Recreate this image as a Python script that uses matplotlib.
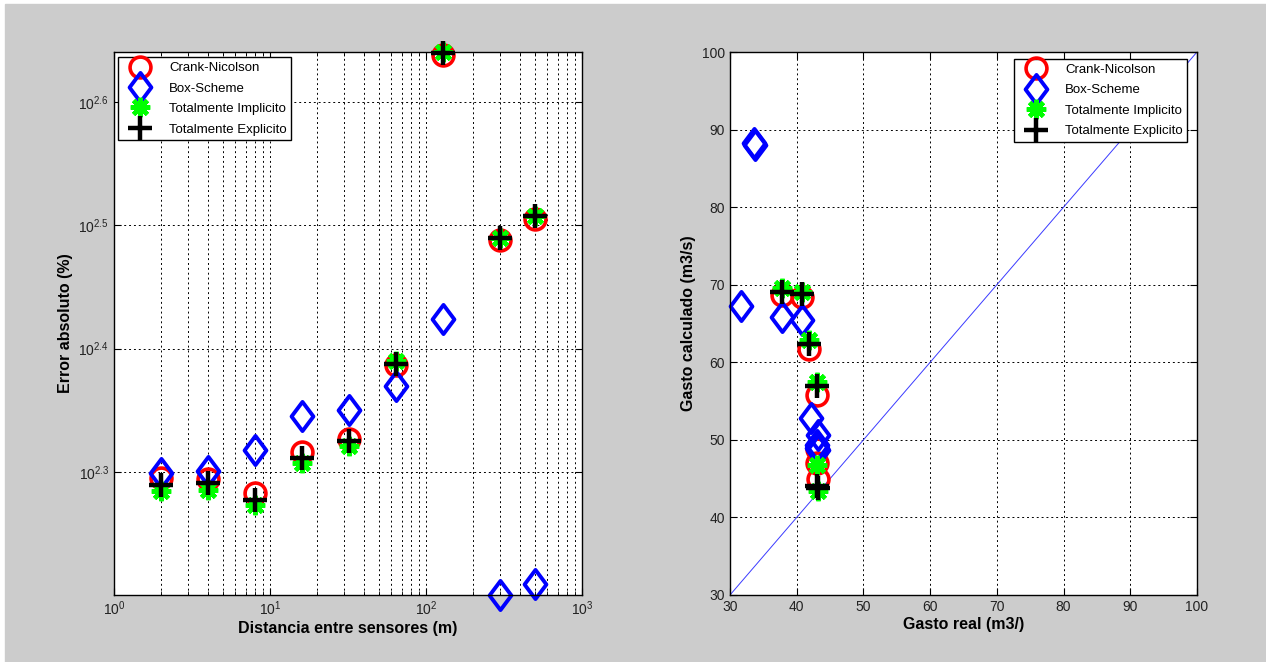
# coding: utf-8
import numpy as np
import matplotlib.pyplot as plt
from matplotlib.path import Path
from matplotlib.patches import Rectangle
from matplotlib.ticker import NullLocator, FixedLocator, FixedFormatter

plt.rcParams['font.family'] = ['Liberation Sans', 'DejaVu Sans']
plt.rcParams['mathtext.fontset'] = 'custom'
plt.rcParams['mathtext.rm'] = 'Liberation Sans'
plt.rcParams['mathtext.it'] = 'Liberation Sans:italic'

metodos = ['Crank-Nicolson', 'Box-Scheme', 'Totalmente Implicito', 'Totalmente Explicito']

# --- error absoluto vs distancia entre sensores ---
dist = [2, 4, 8, 16, 32, 64, 128, 300, 500]
err_cn = [197.3, 196.9, 191.9, 207.0, 212.2, 243.8, 434.9, 307.9, 320.2]
err_box = [199.2, 199.8, 208.0, 221.7, 224.1, 234.1, 265.7, 158.6, 162.0]
err_imp = [192.4, 193.0, 187.7, 202.9, 209.3, 245.3, 437.0, 308.9, 321.6]
err_exp = [194.9, 195.5, 189.5, 204.8, 211.3, 244.3, 436.3, 308.9, 321.6]

# --- gasto calculado vs gasto real ---
real_cn = [37.75, 40.75, 41.9, 43.0, 43.1, 43.2, 43.1]
calc_cn = [68.7, 68.4, 61.7, 55.8, 47.0, 45.0, 48.8]
real_box = [31.7, 33.55, 33.7, 37.75, 40.75, 42.2, 43.2, 43.0, 43.2, 43.1]
calc_box = [67.3, 88.3, 88.0, 65.9, 65.5, 52.8, 50.6, 49.3, 48.7, 49.0]
real_imp = [37.75, 40.75, 41.9, 43.0, 43.1, 43.2]
calc_imp = [69.6, 69.1, 62.9, 57.5, 46.8, 43.4]
real_exp = [37.75, 40.75, 41.9, 43.0, 43.1, 43.2]
calc_exp = [69.0, 68.8, 62.4, 56.9, 44.0, 43.8]
linea_ideal = [30, 100]

diamante = Path([(0, 1), (0.75, 0), (0, -1), (-0.75, 0), (0, 1)],
                [Path.MOVETO, Path.LINETO, Path.LINETO, Path.LINETO, Path.CLOSEPOLY])

estilos = [
    dict(marker='o', color='red', mfc='none', ms=15, mew=2.6),
    dict(marker=diamante, color='blue', mfc='none', ms=21, mew=2.8),
    dict(marker=(8, 2, 0), color='#00ff00', ms=14, mew=3.2),
    dict(marker='+', color='black', ms=17, mew=3.2),
]

fig = plt.figure(figsize=(12.66, 6.62), dpi=100)
fig.patch.set_facecolor('white')
fig.add_artist(Rectangle((5 / 1266, 0), 1, (662 - 4) / 662, transform=fig.transFigure,
                         color='#cccccc', zorder=-10))

grid_kw = dict(color='black', linestyle=(0, (2, 3)), linewidth=0.7)
tick_color = '#222222'


def estilo_ejes(ax):
    ax.set_facecolor('white')
    for s in ax.spines.values():
        s.set_linewidth(1.0)
        s.set_color('black')
    ax.tick_params(which='both', direction='in', top=True, right=True,
                   labelsize=10, labelcolor=tick_color)
    ax.tick_params(which='major', length=5)
    ax.tick_params(which='minor', length=3)


def leyenda(ax, handles, labels, **kw):
    leg = ax.legend(handles, labels, fontsize=9.5, numpoints=1, handlelength=2.6,
                    fancybox=False, framealpha=1, edgecolor='black', borderpad=0.35,
                    labelspacing=0.62, handletextpad=0.9, borderaxespad=0, **kw)
    leg.get_frame().set_linewidth(1.0)
    return leg


# subplot izquierdo
ax1 = fig.add_axes([114 / 1266, 67 / 662, 468 / 1266, 543 / 662])
series1 = [err_cn, err_box, err_imp, err_exp]
lineas1 = []
for nombre, y, st in zip(metodos, series1, estilos):
    l, = ax1.plot(dist, y, linestyle='none', label=nombre, clip_on=False, **st)
    lineas1.append(l)
ax1.set_xscale('log')
ax1.set_yscale('log')
ax1.set_xlim(1, 1000)
todos = np.concatenate(series1)
ax1.set_ylim(todos.min(), todos.max())
ax1.yaxis.set_major_locator(FixedLocator([10 ** 2.3, 10 ** 2.4, 10 ** 2.5, 10 ** 2.6]))
ax1.yaxis.set_major_formatter(FixedFormatter(['$10^{2.3}$', '$10^{2.4}$', '$10^{2.5}$', '$10^{2.6}$']))
ax1.yaxis.set_minor_locator(NullLocator())
ax1.grid(True, which='major', axis='both', **grid_kw)
ax1.grid(True, which='minor', axis='x', **grid_kw)
estilo_ejes(ax1)
ax1.set_xlabel('Distancia entre sensores (m)', fontsize=11.5, fontweight='bold', labelpad=2)
ax1.set_ylabel('Error absoluto (%)', fontsize=11.5, fontweight='bold', labelpad=4)
leyenda(ax1, lineas1, metodos, loc='upper left', bbox_to_anchor=(0.009, 0.99))

# subplot derecho
ax2 = fig.add_axes([730 / 1266, 67 / 662, 467 / 1266, 543 / 662])
ax2.plot(linea_ideal, linea_ideal, color='#3a3aff', linewidth=0.7)
series2 = [(real_cn, calc_cn), (real_box, calc_box), (real_imp, calc_imp), (real_exp, calc_exp)]
lineas2 = []
for nombre, (x, y), st in zip(metodos, series2, estilos):
    l, = ax2.plot(x, y, linestyle='none', label=nombre, clip_on=False, **st)
    lineas2.append(l)
ax2.set_xlim(30, 100)
ax2.set_ylim(30, 100)
ax2.set_xticks(np.arange(30, 101, 10))
ax2.set_yticks(np.arange(30, 101, 10))
ax2.grid(True, **grid_kw)
estilo_ejes(ax2)
ax2.set_xlabel('Gasto real (m3/)', fontsize=11.5, fontweight='bold', labelpad=2)
ax2.set_ylabel('Gasto calculado (m3/s)', fontsize=11.5, fontweight='bold', labelpad=4)
leyenda(ax2, lineas2, metodos, loc='upper right', bbox_to_anchor=(0.979, 0.987))

fig.savefig('out.png', dpi=100, facecolor=fig.get_facecolor())
